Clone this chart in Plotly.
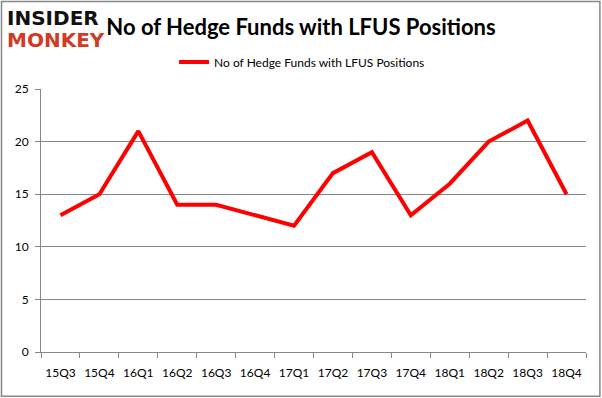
import plotly.graph_objects as go

quarters = ["15Q3", "15Q4", "16Q1", "16Q2", "16Q3", "16Q4", "17Q1", "17Q2", "17Q3", "17Q4", "18Q1", "18Q2", "18Q3", "18Q4"]
funds = [13, 15, 21, 14, 14, 13, 12, 17, 19, 13, 16, 20, 22, 15]
y_ticks = [0, 5, 10, 15, 20, 25]
series_name = "No of Hedge Funds with LFUS Positions"
title_text = "No of Hedge Funds with LFUS Positions"

FONT = "Lato, 'Open Sans', sans-serif"
GRID = "#878787"

fig = go.Figure()
fig.add_trace(go.Scatter(
    x=quarters, y=funds, mode="lines", name=series_name,
    line=dict(color="#ff0000", width=4),
))

fig.update_layout(
    width=602, height=398,
    margin=dict(l=41, r=16, t=89, b=46),
    paper_bgcolor="white", plot_bgcolor="white",
    showlegend=True,
    legend=dict(orientation="h", x=0.479, xanchor="center", y=1.103, yanchor="middle",
                font=dict(family=FONT, size=12, color="#000"), itemwidth=30),
    title=dict(text="<b>" + title_text + "</b>", x=0.5, xanchor="center", y=0.932, yanchor="middle",
               font=dict(family=FONT, size=22, color="#000")),
    xaxis=dict(type="category", range=[-0.5, len(quarters) - 0.5], showgrid=False, showline=True,
               linecolor=GRID, linewidth=1, tickangle=0, ticklabelstandoff=10,
               ticks="outside", tickson="boundaries", ticklen=5, tickcolor=GRID,
               tickfont=dict(family=FONT, size=12, color="#000"), fixedrange=True),
    yaxis=dict(range=[0, 25], tickvals=y_ticks, showgrid=True, gridcolor=GRID, gridwidth=1,
               showline=True, linecolor=GRID, linewidth=1, ticks="outside", ticklen=5, tickcolor=GRID,
               ticklabelstandoff=4,
               zeroline=False, tickfont=dict(family=FONT, size=12, color="#000")),
    shapes=[dict(type="rect", xref="paper", yref="paper", x0=-0.0725, x1=1.0255, y0=-0.168, y1=1.333,
                 line=dict(color="#888888", width=1.5), fillcolor="rgba(0,0,0,0)", layer="below")],
    annotations=[
        dict(text="<b>INSIDER</b>", xref="paper", yref="paper", x=-0.066, y=1.27, xanchor="left", yanchor="middle",
             showarrow=False, font=dict(family="'DejaVu Sans', sans-serif", size=20, color="#111")),
        dict(text="<b>MONKEY</b>", xref="paper", yref="paper", x=-0.066, y=1.186, xanchor="left", yanchor="middle",
             showarrow=False, font=dict(family="'DejaVu Sans', sans-serif", size=20, color="#d23a26")),
    ],
)

fig.write_html("out.html", config={"displayModeBar": False},
               post_script="document.body.style.margin='0';document.body.style.padding='0';")
